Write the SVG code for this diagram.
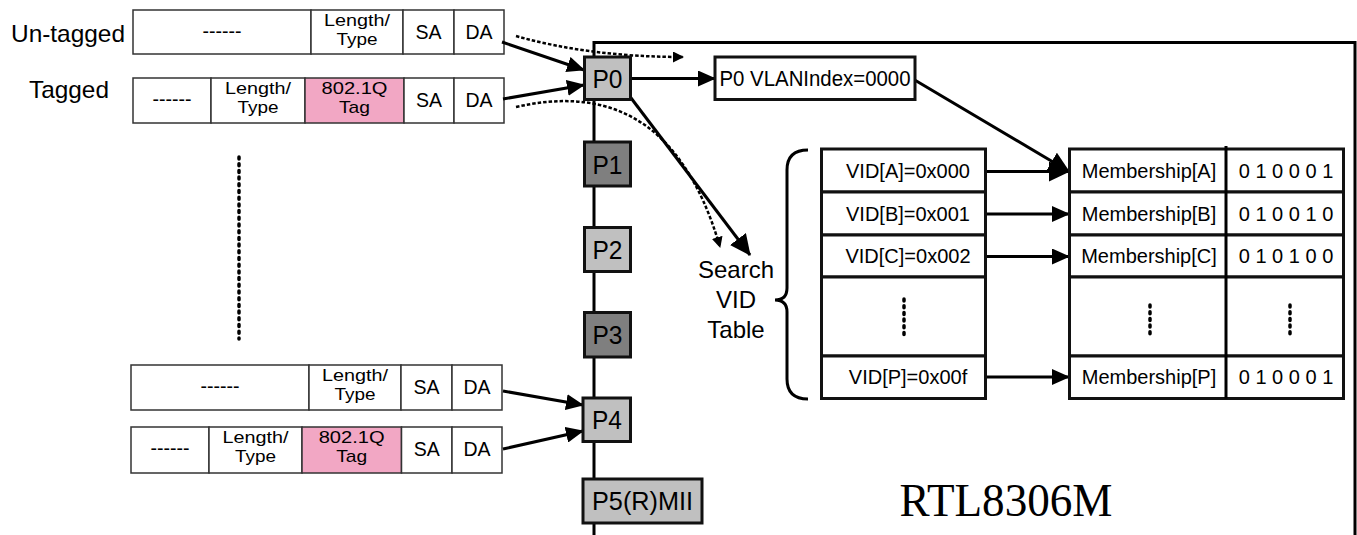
<svg xmlns="http://www.w3.org/2000/svg" width="1357" height="535" viewBox="0 0 1357 535">
<style>
text{font-family:"Liberation Sans",Arial,sans-serif;fill:#000}
.fr{fill:#fff;stroke:#333;stroke-width:1.5}
.pink{fill:#f2a7c4;stroke:#333;stroke-width:1.5}
.ft{font-size:19.5px;text-anchor:middle}
.f2{font-size:17px;text-anchor:middle}
.lbl{font-size:24px}
.port{stroke:#111;stroke-width:3}
.pl{fill:#c0c0c0}
.pd{fill:#7f7f7f}
.pt{font-size:26px;text-anchor:middle}
.st{font-size:24px;text-anchor:middle}
.box{fill:#fff;stroke:#111;stroke-width:3}
.tt{font-size:20px;text-anchor:middle}
.ln{stroke:#000;stroke-width:3;fill:none}
.arr{stroke:#000;stroke-width:3;fill:none;marker-end:url(#ah)}
.arrb{stroke:#000;stroke-width:3;fill:none;marker-end:url(#ahb)}
.dash{stroke:#000;stroke-width:2.5;fill:none;stroke-dasharray:3.5 2;marker-end:url(#dh)}
.dots{stroke:#000;stroke-width:3.5;stroke-linecap:round;stroke-dasharray:2 4.7;fill:none}
</style>
<defs>
<marker id="ah" markerUnits="userSpaceOnUse" markerWidth="18" markerHeight="16" refX="17" refY="8" orient="auto"><path d="M0,0 L18,8 L0,16 z" fill="#000"/></marker>
<marker id="ahb" markerUnits="userSpaceOnUse" markerWidth="21" markerHeight="20" refX="20" refY="10" orient="auto"><path d="M0,0 L21,10 L0,20 z" fill="#000"/></marker>
<marker id="dh" markerUnits="userSpaceOnUse" markerWidth="11" markerHeight="11" refX="10" refY="5.5" orient="auto"><path d="M0,0 L11,5.5 L0,11 z" fill="#000"/></marker>
</defs>

<g id="chip">
<path class="ln" d="M594,535 V42.5 H1355 V535"/>
<text x="1006" y="516" style="font-family:'Liberation Serif','Times New Roman',serif" font-size="47" text-anchor="middle" textLength="213" lengthAdjust="spacingAndGlyphs">RTL8306M</text>
</g>

<g id="untagged-label"><text class="lbl" x="11" y="42" textLength="114" lengthAdjust="spacingAndGlyphs">Un-tagged</text></g>
<g id="tagged-label"><text class="lbl" x="29" y="98" textLength="80" lengthAdjust="spacingAndGlyphs">Tagged</text></g>

<g id="frame-untagged">
<rect class="fr" x="133" y="10" width="178" height="44"/>
<rect class="fr" x="311" y="10" width="92" height="44"/>
<rect class="fr" x="403" y="10" width="51" height="44"/>
<rect class="fr" x="454" y="10" width="50" height="44"/>
<text class="ft" x="222" y="38">------</text>
<text class="f2" x="357" y="26" textLength="66" lengthAdjust="spacingAndGlyphs">Length/</text>
<text class="f2" x="357" y="45" textLength="41" lengthAdjust="spacingAndGlyphs">Type</text>
<text class="ft" x="428.5" y="39">SA</text>
<text class="ft" x="479" y="39">DA</text>
</g>

<g id="frame-tagged">
<rect class="fr" x="133" y="78" width="78" height="45"/>
<rect class="fr" x="211" y="78" width="94" height="45"/>
<rect class="pink" x="305" y="78" width="99" height="45"/>
<rect class="fr" x="404" y="78" width="50" height="45"/>
<rect class="fr" x="454" y="78" width="50" height="45"/>
<text class="ft" x="172" y="106">------</text>
<text class="f2" x="258" y="94" textLength="66" lengthAdjust="spacingAndGlyphs">Length/</text>
<text class="f2" x="258" y="113" textLength="41" lengthAdjust="spacingAndGlyphs">Type</text>
<text class="f2" x="354.5" y="94" textLength="66" lengthAdjust="spacingAndGlyphs">802.1Q</text>
<text class="f2" x="354.5" y="113" textLength="31" lengthAdjust="spacingAndGlyphs">Tag</text>
<text class="ft" x="429" y="107">SA</text>
<text class="ft" x="479" y="107">DA</text>
</g>

<g id="frame-untagged-2">
<rect class="fr" x="131" y="365" width="178" height="45"/>
<rect class="fr" x="309" y="365" width="92" height="45"/>
<rect class="fr" x="401" y="365" width="51" height="45"/>
<rect class="fr" x="452" y="365" width="50" height="45"/>
<text class="ft" x="220" y="393">------</text>
<text class="f2" x="355" y="381" textLength="66" lengthAdjust="spacingAndGlyphs">Length/</text>
<text class="f2" x="355" y="400" textLength="41" lengthAdjust="spacingAndGlyphs">Type</text>
<text class="ft" x="426.5" y="394">SA</text>
<text class="ft" x="477" y="394">DA</text>
</g>

<g id="frame-tagged-2">
<rect class="fr" x="131" y="427" width="78" height="46"/>
<rect class="fr" x="209" y="427" width="93" height="46"/>
<rect class="pink" x="302" y="427" width="99.5" height="46"/>
<rect class="fr" x="401.5" y="427" width="50.5" height="46"/>
<rect class="fr" x="452" y="427" width="50" height="46"/>
<text class="ft" x="170" y="455">------</text>
<text class="f2" x="255.5" y="443" textLength="66" lengthAdjust="spacingAndGlyphs">Length/</text>
<text class="f2" x="255.5" y="462" textLength="41" lengthAdjust="spacingAndGlyphs">Type</text>
<text class="f2" x="351.7" y="443" textLength="66" lengthAdjust="spacingAndGlyphs">802.1Q</text>
<text class="f2" x="351.7" y="462" textLength="31" lengthAdjust="spacingAndGlyphs">Tag</text>
<text class="ft" x="426.7" y="456">SA</text>
<text class="ft" x="477" y="456">DA</text>
</g>

<g id="ellipsis-left"><line class="dots" x1="239" y1="157" x2="239" y2="339"/></g>

<g id="connectors">
<path class="arr" d="M502,42 L584,70"/>
<path class="arr" d="M503,99 L584,85"/>
<path class="arr" d="M503,391 L583,405"/>
<path class="arr" d="M503,449 L583,431"/>
<path class="arr" d="M631,78.5 L715,78.5"/>
<path class="arrb" d="M628,94 L750,255"/>
<path class="arrb" d="M913,79 L1069,171.5"/>
<path class="arrb" d="M985,171.5 L1069,171.5"/>
<path class="arr" d="M985,214 L1069,214"/>
<path class="arr" d="M985,256.5 L1069,256.5"/>
<path class="arr" d="M985,377 L1069,377"/>
<path class="dash" d="M516,36 Q590,57 683,57"/>
<path class="dash" d="M516,107 C600,88 680,110 720,247"/>
</g>

<g id="P0"><rect class="port pl" x="584.5" y="57" width="46" height="42.5"/><text class="pt" x="607.5" y="88" textLength="30" lengthAdjust="spacingAndGlyphs">P0</text></g>
<g id="P1"><rect class="port pd" x="584.5" y="142" width="46" height="44"/><text class="pt" x="607.5" y="173.5" textLength="30" lengthAdjust="spacingAndGlyphs">P1</text></g>
<g id="P2"><rect class="port pl" x="584.5" y="227.5" width="46" height="44"/><text class="pt" x="607.5" y="259" textLength="30" lengthAdjust="spacingAndGlyphs">P2</text></g>
<g id="P3"><rect class="port pd" x="584.5" y="312.5" width="46" height="44.5"/><text class="pt" x="607.5" y="344" textLength="30" lengthAdjust="spacingAndGlyphs">P3</text></g>
<g id="P4"><rect class="port pl" x="583" y="398" width="47.5" height="43.5"/><text class="pt" x="607" y="429" textLength="30" lengthAdjust="spacingAndGlyphs">P4</text></g>
<g id="P5"><rect class="port pl" x="583" y="479" width="119" height="44"/><text class="pt" x="642.5" y="510" textLength="101" lengthAdjust="spacingAndGlyphs">P5(R)MII</text></g>

<g id="vlan-index"><rect class="box" x="715" y="57" width="200" height="42.5"/><text class="tt" x="815" y="86" style="font-size:22px" textLength="191" lengthAdjust="spacingAndGlyphs">P0 VLANIndex=0000</text></g>

<g id="search-label">
<text class="st" x="736" y="278">Search</text>
<text class="st" x="736" y="308">VID</text>
<text class="st" x="736" y="338">Table</text>
<path class="ln" d="M808,150 Q787,150 787,170 V288 Q787,300 775,300 Q787,300 787,312 V379 Q787,399 808,399"/>
</g>

<g id="vid-table">
<rect class="box" x="821.5" y="149" width="164" height="43"/>
<rect class="box" x="821.5" y="192" width="164" height="43"/>
<rect class="box" x="821.5" y="235" width="164" height="42"/>
<rect class="box" x="821.5" y="277" width="164" height="79"/>
<rect class="box" x="821.5" y="356" width="164" height="42.5"/>
<text class="tt" x="908" y="178">VID[A]=0x000</text>
<text class="tt" x="908" y="221">VID[B]=0x001</text>
<text class="tt" x="908" y="263">VID[C]=0x002</text>
<text class="tt" x="908" y="384">VID[P]=0x00f</text>
<line class="dots" x1="904" y1="299" x2="904" y2="339"/>
</g>

<g id="membership-table">
<rect class="box" x="1069.5" y="149" width="274" height="43"/>
<rect class="box" x="1069.5" y="192" width="274" height="43"/>
<rect class="box" x="1069.5" y="235" width="274" height="42"/>
<rect class="box" x="1069.5" y="277" width="274" height="79"/>
<rect class="box" x="1069.5" y="356" width="274" height="42.5"/>
<line class="ln" x1="1226" y1="146" x2="1226" y2="398.5"/>
<text class="tt" x="1149" y="178">Membership[A]</text>
<text class="tt" x="1286" y="178">0 1 0 0 0 1</text>
<text class="tt" x="1149" y="221">Membership[B]</text>
<text class="tt" x="1286" y="221">0 1 0 0 1 0</text>
<text class="tt" x="1149" y="263">Membership[C]</text>
<text class="tt" x="1286" y="263">0 1 0 1 0 0</text>
<text class="tt" x="1149" y="384">Membership[P]</text>
<text class="tt" x="1286" y="384">0 1 0 0 0 1</text>
<line class="dots" x1="1150" y1="305" x2="1150" y2="338"/>
<line class="dots" x1="1290" y1="305" x2="1290" y2="338"/>
</g>
</svg>
